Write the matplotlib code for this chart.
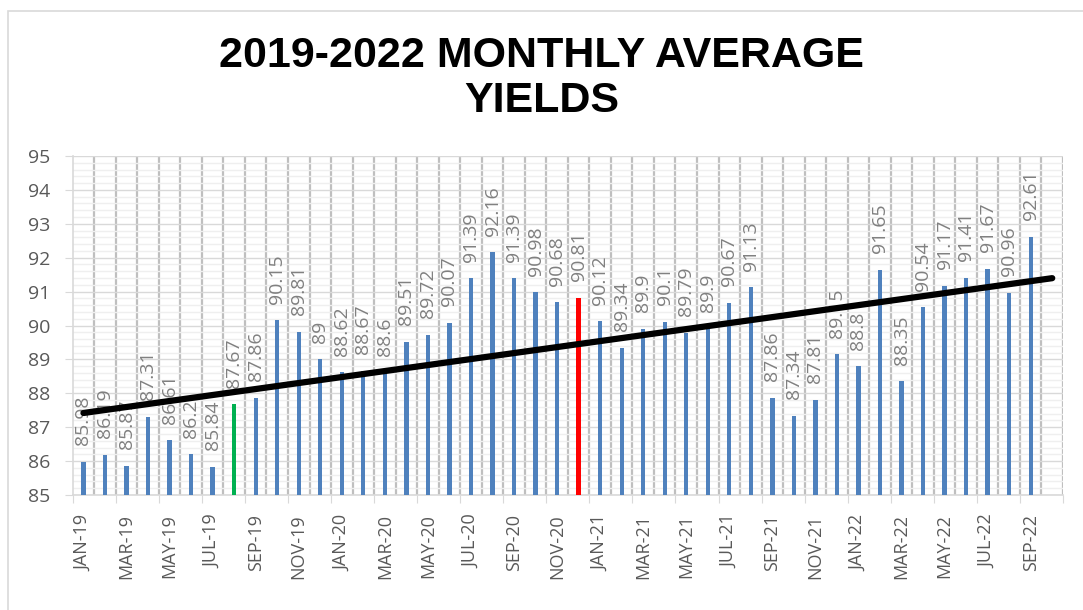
import matplotlib
matplotlib.use("Agg")
import matplotlib.pyplot as plt
import numpy as np
from matplotlib.patches import Rectangle

# monthly average yields, Jan-19 .. Sep-22
months = ["JAN-19", "FEB-19", "MAR-19", "APR-19", "MAY-19", "JUN-19", "JUL-19", "AUG-19",
          "SEP-19", "OCT-19", "NOV-19", "DEC-19",
          "JAN-20", "FEB-20", "MAR-20", "APR-20", "MAY-20", "JUN-20", "JUL-20", "AUG-20",
          "SEP-20", "OCT-20", "NOV-20", "DEC-20",
          "JAN-21", "FEB-21", "MAR-21", "APR-21", "MAY-21", "JUN-21", "JUL-21", "AUG-21",
          "SEP-21", "OCT-21", "NOV-21", "DEC-21",
          "JAN-22", "FEB-22", "MAR-22", "APR-22", "MAY-22", "JUN-22", "JUL-22", "AUG-22",
          "SEP-22"]
yields = [85.98, 86.19, 85.87, 87.31, 86.61, 86.2, 85.84, 87.67, 87.86, 90.15, 89.81, 89,
          88.62, 88.67, 88.6, 89.51, 89.72, 90.07, 91.39, 92.16, 91.39, 90.98, 90.68, 90.81,
          90.12, 89.34, 89.9, 90.1, 89.79, 89.9, 90.67, 91.13, 87.86, 87.34, 87.81, 89.15,
          88.8, 91.65, 88.35, 90.54, 91.17, 91.41, 91.67, 90.96, 92.61]
highlight = {"AUG-19": "#00b050", "DEC-20": "#ff0000"}

W, H = 1083, 610
fig = plt.figure(figsize=(W / 100, H / 100), dpi=100)
ax = fig.add_axes([72.7 / W, 1 - 495 / H, (1063 - 72.7) / W, (495 - 156) / H])

x = np.arange(len(months))
colors = [highlight.get(m, "#4f81bd") for m in months]
ax.bar(x, np.array(yields) - 85, bottom=85, width=0.2, color=colors, zorder=3)

for xi, v in zip(x, yields):
    ax.annotate(f"{v:g}", (xi, v), xytext=(0, 12), textcoords="offset points",
                rotation=90, ha="center", va="bottom", fontsize=14,
                family="Open Sans", color="#808080", zorder=4)

# linear trend, one period forward
k, b = np.polyfit(x, yields, 1)
tx = np.array([0, len(months)])
ax.plot(tx, k * tx + b, color="black", lw=4.5, solid_capstyle="round", zorder=5)

ax.set_xlim(-0.5, len(months) + 0.5)
ax.set_ylim(85, 95)
ax.set_yticks(np.arange(85, 96, 1))
ax.set_yticks(np.arange(85, 95.01, 0.2), minor=True)
ax.set_xticks(np.arange(-0.5, len(months) + 1, 2))
ax.set_xticklabels([])
ax.set_xticks(x[::2], minor=True)
ax.set_xticklabels(months[::2], minor=True, rotation=90, fontsize=13,
                   family="Open Sans", color="#595959")
ax.tick_params(axis="x", which="major", length=6, color="#d9d9d9", direction="out")
ax.tick_params(axis="x", which="minor", length=0, pad=14)
ax.tick_params(axis="y", which="major", length=6, color="#d9d9d9", pad=10,
               labelsize=14, labelcolor="#595959")
ax.tick_params(axis="y", which="minor", length=0)
for lab in ax.get_yticklabels():
    lab.set_family("Open Sans")

for gx in np.arange(0.5, len(months) + 1, 1):
    ax.axvline(gx, color="#bfbfbf", lw=1.6, zorder=1)
ax.grid(axis="y", which="major", color="#d9d9d9", lw=1, zorder=0)
ax.grid(axis="y", which="minor", color="#efefef", lw=1, zorder=0)

for s in ["top", "right"]:
    ax.spines[s].set_visible(False)
for s in ["left", "bottom"]:
    ax.spines[s].set_color("#d9d9d9")
    ax.spines[s].set_linewidth(1.2)

fig.text(0.5, 1 - 56 / H, "2019-2022 MONTHLY AVERAGE", ha="center", va="center",
         fontsize=31, fontweight="bold", family="Liberation Sans")
fig.text(0.5, 1 - 101 / H, "YIELDS", ha="center", va="center",
         fontsize=31, fontweight="bold", family="Liberation Sans")

fig.patches.append(Rectangle((8 / W, -0.1), 1.2, 1 - 11 / H + 0.1, transform=fig.transFigure,
                             fill=False, edgecolor="#d9d9d9", lw=1.2))

fig.savefig("out.png", dpi=100)
